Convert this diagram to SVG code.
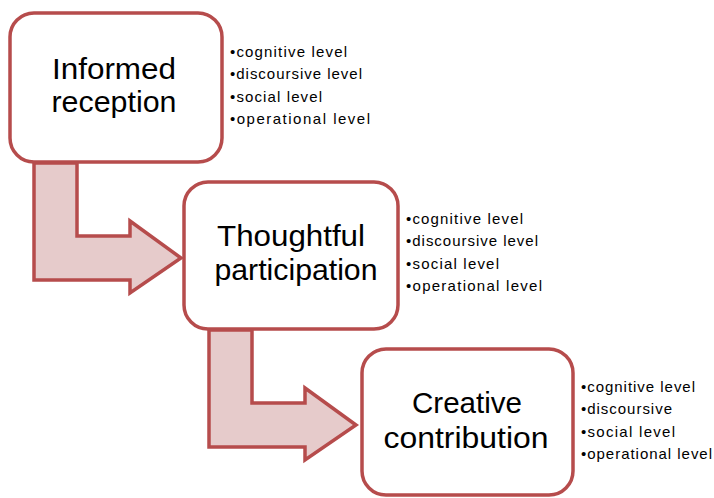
<svg xmlns="http://www.w3.org/2000/svg" width="714" height="498" viewBox="0 0 714 498">
<style>
.box{fill:#fff;stroke:#b64c4c;stroke-width:3.5}
.arrow{fill:#e6cbcb;stroke:#b64c4c;stroke-width:3.5;stroke-linejoin:miter}
.title{font-family:"Liberation Sans",Arial,sans-serif;font-size:30px;fill:#000;text-anchor:middle}
.list{font-family:"Liberation Sans",Arial,sans-serif;font-size:15px;fill:#000}
</style>
<rect width="714" height="498" fill="#fff"/>
<g id="connectors">
<path class="arrow" d="M34,163 L77,163 L77,236 L130,236 L130,221 L181,258 L130,293 L130,280 L34,280 Z"/>
<path class="arrow" d="M209,330 L252,330 L252,403 L305,403 L305,388 L356,425 L305,460 L305,447 L209,447 Z"/>
</g>
<g id="node1">
<rect class="box" x="10" y="13" width="212" height="149" rx="24"/>
<text class="title" x="114" y="79" textLength="124" lengthAdjust="spacingAndGlyphs">Informed</text>
<text class="title" x="114" y="112" textLength="125" lengthAdjust="spacingAndGlyphs">reception</text>
</g>
<g id="list1">
<text class="list" x="230" y="57" textLength="117" lengthAdjust="spacing">•cognitive level</text>
<text class="list" x="230" y="79" textLength="132" lengthAdjust="spacing">•discoursive level</text>
<text class="list" x="230" y="102" textLength="92" lengthAdjust="spacing">•social level</text>
<text class="list" x="230" y="124" textLength="140" lengthAdjust="spacing">•operational level</text>
</g>
<g id="node2">
<rect class="box" x="184" y="182" width="214" height="147" rx="24"/>
<text class="title" x="291" y="246" textLength="148" lengthAdjust="spacingAndGlyphs">Thoughtful</text>
<text class="title" x="296" y="280" textLength="163" lengthAdjust="spacingAndGlyphs">participation</text>
</g>
<g id="list2">
<text class="list" x="406" y="224" textLength="117" lengthAdjust="spacing">•cognitive level</text>
<text class="list" x="406" y="246" textLength="132" lengthAdjust="spacing">•discoursive level</text>
<text class="list" x="406" y="269" textLength="93" lengthAdjust="spacing">•social level</text>
<text class="list" x="406" y="291" textLength="136" lengthAdjust="spacing">•operational level</text>
</g>
<g id="node3">
<rect class="box" x="362" y="349" width="211" height="146" rx="24"/>
<text class="title" x="467" y="413" textLength="110" lengthAdjust="spacingAndGlyphs">Creative</text>
<text class="title" x="466" y="448" textLength="165" lengthAdjust="spacingAndGlyphs">contribution</text>
</g>
<g id="list3">
<text class="list" x="581" y="392" textLength="114" lengthAdjust="spacing">•cognitive level</text>
<text class="list" x="581" y="414" textLength="91" lengthAdjust="spacing">•discoursive</text>
<text class="list" x="581" y="437" textLength="94" lengthAdjust="spacing">•social level</text>
<text class="list" x="581" y="459" textLength="131" lengthAdjust="spacing">•operational level</text>
</g>
</svg>
